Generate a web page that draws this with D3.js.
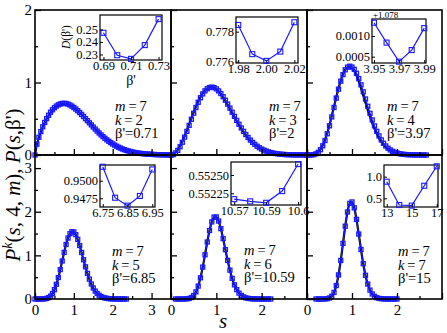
<!DOCTYPE html>
<html><head><meta charset="utf-8">
<script src="https://cdn.jsdelivr.net/npm/d3@7"></script>
<style>
body{margin:0;background:#fff}
svg{display:block}
</style>
</head><body>
<svg id="c" width="447" height="333"></svg>
<script>
// ---------------- DATA ----------------
const sGrid = [0,0.05,0.1,0.15,0.2,0.25,0.3,0.35,0.4,0.45,0.5,0.55,0.6,0.65,0.7,0.75,0.8,0.85,0.9,0.95,1,1.05,1.1,1.15,1.2,1.25,1.3,1.35,1.4,1.45,1.5,1.55,1.6,1.65,1.7,1.75,1.8,1.85,1.9,1.95,2,2.05,2.1,2.15,2.2,2.25,2.3,2.35,2.4,2.45,2.5,2.55,2.6,2.65,2.7,2.75,2.8,2.85,2.9,2.95,3,3.05,3.1,3.15,3.2,3.25,3.3,3.35,3.4,3.45,3.5];

// P(s, beta') black curves
const theoryK2 = [0,.148,.241,.319,.387,.446,.499,.545,.585,.619,.647,.669,.686,.697,.703,.705,.702,.695,.684,.669,.651,.631,.609,.584,.558,.531,.502,.474,.445,.416,.387,.359,.332,.305,.280,.255,.232,.211,.190,.171,.153,.137,.122,.108,.095,.084,.074,.064,.056,.048,.042,.036,.031,.027,.023,.019,.016,.014,.012,.010,.008,.007,.006,.005,.004,.003,.003,.002,.002,.001,.001];
const theoryK3 = [0,.008,.032,.071,.123,.187,.260,.340,.423,.507,.590,.667,.738,.800,.851,.891,.919,.934,.936,.927,.908,.878,.841,.796,.747,.693,.637,.580,.524,.469,.416,.366,.319,.276,.236,.201,.170,.142,.118,.097,.080,.065,.052,.042,.033,.026,.020,.016,.012,.009,.007,.005,.004,.003,.002,.002,.001,.001,.001,0,0];
const theoryK4 = [0,.0001,.0012,.006,.018,.040,.078,.134,.209,.304,.415,.538,.668,.797,.919,1.027,1.114,1.178,1.213,1.222,1.202,1.159,1.095,1.014,.922,.823,.722,.623,.528,.441,.362,.292,.233,.183,.141,.107,.080,.060,.043,.031,.022,.016,.011,.007,.005,.003,.002,.001,.001,.001,0,0,0,0];
const theoryK5 = [0,0,0,0,.001,.004,.012,.029,.064,.122,.211,.334,.490,.673,.872,1.071,1.254,1.401,1.501,1.545,1.534,1.470,1.360,1.219,1.058,.891,.729,.580,.448,.337,.247,.177,.123,.083,.055,.036,.023,.014,.008,.005,.003,.002,.001,.001,0,0,0,0];
const theoryK6 = [0,0,0,0,0,0,.001,.004,.012,.034,.079,.161,.294,.485,.730,1.014,1.307,1.571,1.769,1.878,1.881,1.786,1.610,1.381,1.128,.881,.658,.470,.322,.212,.134,.081,.047,.027,.014,.008,.004,.002,.001,0,0,0,0,0,0];
const theoryK7 = [0,0,0,0,0,0,0,0,.002,.007,.023,.063,.149,.306,.551,.883,1.276,1.670,1.996,2.193,2.224,2.088,1.822,1.485,1.131,.807,.541,.341,.202,.114,.060,.030,.014,.006,.003,.001,0,0,0,0,0];

// P^k(s,4,m) blue markers
const dataK2 = [0,.150,.245,.322,.390,.449,.502,.548,.590,.624,.652,.675,.692,.704,.711,.713,.710,.702,.690,.674,.655,.634,.611,.586,.559,.531,.502,.473,.444,.415,.386,.358,.330,.304,.278,.254,.231,.209,.189,.170,.152,.136,.121,.107,.095,.083,.073,.064,.056,.049,.042,.036,.031,.027,.023,.020,.017,.014,.012,.010,.009,.007,.006,.005,.004,.003,.003,.002,.002,.001,.001];
const dataK3 = [0,.006,.028,.064,.114,.176,.247,.326,.409,.493,.576,.655,.727,.790,.843,.885,.914,.931,.936,.930,.912,.884,.848,.804,.755,.702,.646,.589,.532,.477,.424,.373,.326,.282,.242,.206,.174,.146,.121,.100,.082,.067,.054,.043,.034,.027,.021,.016,.012,.009,.007,.005,.004,.003,.002,.002,.001,.001,.001,0,0];
const dataK4 = [0,0,.001,.005,.016,.037,.073,.127,.200,.293,.403,.525,.655,.785,.908,1.018,1.108,1.175,1.212,1.225,1.212,1.181,1.127,1.054,.968,.872,.772,.672,.575,.484,.401,.327,.263,.208,.162,.124,.094,.070,.051,.037,.027,.019,.013,.009,.006,.004,.003,.002,.001,.001,.001,0,0,0];
const dataK5 = [0,0,0,0,.001,.004,.013,.031,.066,.125,.214,.337,.492,.674,.871,1.068,1.249,1.396,1.497,1.543,1.535,1.474,1.366,1.226,1.066,.899,.737,.587,.455,.343,.252,.181,.127,.086,.057,.037,.024,.015,.009,.005,.003,.002,.001,.001,0,0,0,0];
const dataK6 = [null,null,0,0,0,0,.001,.004,.012,.034,.080,.163,.296,.486,.731,1.014,1.306,1.569,1.767,1.876,1.880,1.787,1.612,1.384,1.131,.884,.661,.473,.324,.214,.135,.082,.048,.027,.015,.008,.004,.002,.001,0,0,0,0,0,0];
const dataK7 = [null,null,null,null,0,0,0,0,.002,.007,.024,.064,.151,.308,.552,.884,1.275,1.668,1.994,2.191,2.224,2.090,1.825,1.488,1.134,.810,.543,.343,.203,.115,.061,.030,.014,.006,.003,.001,0,0,0,0,0];

const panelK = [2,3,4,5,6,7];
const panelBeta = ["0.71","2","3.97","6.85","10.59","15"];
const theorySeries = [theoryK2,theoryK3,theoryK4,theoryK5,theoryK6,theoryK7];
const dataSeries = [dataK2,dataK3,dataK4,dataK5,dataK6,dataK7];

// insets: D(beta') vs beta'
const insetBeta = [[0.69,0.70,0.71,0.72,0.73],[1.98,1.99,2.00,2.01,2.02],[3.95,3.96,3.97,3.98,3.99],[6.75,6.80,6.85,6.90,6.95],[10.57,10.58,10.59,10.60,10.61],[13,14,15,16,17]];
const insetD = [[0.2473,0.2294,0.2265,0.2375,0.2582],[0.77845,0.77650,0.77605,0.77667,0.77863],[0.00132,0.00084,0.00038,0.00066,0.00119],[0.95198,0.94758,0.94645,0.94783,0.95160],[0.55217,0.55214,0.55212,0.55228,0.55265],[0.884,0.345,0.330,0.790,1.240]];
const insetXTicks = [[0.69,0.71,0.73],[1.98,2.00,2.02],[3.95,3.97,3.99],[6.75,6.85,6.95],[10.57,10.59,10.61],[13,15,17]];
const insetXTickLabels = [["0.69","0.71","0.73"],["1.98","2.00","2.02"],["3.95","3.97","3.99"],["6.75","6.85","6.95"],["10.57","10.59","10.6"],["13","15","17"]];
const insetYTicks = [[0.23,0.24,0.25],[0.776,0.778],[0.0005,0.0010],[0.9475,0.9500],[0.55225,0.55250],[0.5,1.0]];
const insetYTickLabels = [["0.23","0.24","0.25"],["0.776","0.778"],["0.0005","0.0010"],["0.9475","0.9500"],["0.55225","0.55250"],["0.5","1.0"]];

// ---------------- LAYOUT ----------------
const FONT = "Liberation Serif";
const colX = [35,171,307,442];
const colXMax = [3.5,3,3];
const rowY = [[10,155],[155,299]];
const rowYMax = [2,3.3];
const xLabelTicks = [[0,1,2,3],[0,1,2],[0,1,2]];
const yLabelTicks = [[0,1,2],[0,1,2,3]];
const insetBox = [[100,15,162,60],[236,17,298,63],[372,19,426,63],[100,165,155,207],[231,162,301,205],[384,165,438,207]];
const insetXDom = [[0.6875,0.7325],[1.9784,2.0226],[3.9484,3.9914],[6.739,6.961],[10.568,10.6118],[12.78,17.1]];
const insetYDom = [[0.2256,0.2615],[0.77591,0.77898],[0.000348,0.00141],[0.94626,0.95223],[0.55209,0.552678],[0.299,1.27]];
const annot = [[115,111],[269,111],[387,111],[112,256],[244,255],[398,256]];

const svg = d3.select("#c");
const blue = "#1a1aff";

function drawMarkers(g, pts, xs, ys, size, sw){
  g.selectAll(null).data(pts).enter().append("rect")
    .attr("x", d => xs(d[0]) - size/2).attr("y", d => ys(d[1]) - size/2)
    .attr("width", size).attr("height", size)
    .attr("fill", "none").attr("stroke", blue).attr("stroke-width", sw);
}

for (let p = 0; p < 6; p++) {
  const row = Math.floor(p/3), col = p % 3;
  const x = d3.scaleLinear().domain([0, colXMax[col]]).range([colX[col], colX[col+1]]);
  const y = d3.scaleLinear().domain([0, rowYMax[row]]).range([rowY[row][1], rowY[row][0]]);
  const g = svg.append("g");

  const th = sGrid.map((s,i) => [s, theorySeries[p][i]]).filter(d => d[1] != null);
  const da = sGrid.map((s,i) => [s, dataSeries[p][i]]).filter(d => d[1] != null);
  const line = d3.line().x(d => x(d[0])).y(d => y(d[1])).curve(d3.curveCatmullRom);
  g.append("path").attr("d", line(th)).attr("fill","none").attr("stroke","#000").attr("stroke-width",2.2);
  g.append("path").attr("d", d3.line().x(d => x(d[0])).y(d => y(d[1]))(da)).attr("fill","none").attr("stroke",blue).attr("stroke-width",1.3);
  drawMarkers(g, da, x, y, 4, 1.3);

  const xMaj = d3.range(0, colXMax[col] + 0.001, 1);
  const xMin = d3.range(0.5, colXMax[col], 1);
  const yMaj = d3.range(0, rowYMax[row] + 0.001, 1);
  const yMin = d3.range(0.5, rowYMax[row], 1);
  const ax = g.append("g").attr("transform", `translate(0,${rowY[row][1]})`)
    .call(d3.axisBottom(x).tickValues(xMaj).tickSize(-6).tickPadding(4)
      .tickFormat(d => (row === 1 && xLabelTicks[col].includes(d)) ? d3.format("d")(d) : ""));
  g.append("g").attr("transform", `translate(0,${rowY[row][1]})`)
    .call(d3.axisBottom(x).tickValues(xMin).tickSize(-3).tickFormat(""));
  g.append("g").attr("transform", `translate(${colX[col]},0)`)
    .call(d3.axisLeft(y).tickValues(yMaj).tickSize(-6).tickPadding(3)
      .tickFormat(d => (col === 0 && yLabelTicks[row].includes(d)) ? d3.format("d")(d) : ""));
  g.append("g").attr("transform", `translate(${colX[col]},0)`)
    .call(d3.axisLeft(y).tickValues(yMin).tickSize(-3).tickFormat(""));
  g.selectAll(".domain").remove();
  g.selectAll(".tick line").attr("stroke","#000").attr("stroke-width",1.3);
  g.selectAll(".tick text").attr("font-size",15).attr("fill","#000");
  ax.selectAll(".tick text").attr("dy","0.8em");

  g.append("rect").attr("x", colX[col]).attr("y", rowY[row][0])
    .attr("width", colX[col+1]-colX[col]).attr("height", rowY[row][1]-rowY[row][0])
    .attr("fill","none").attr("stroke","#000").attr("stroke-width",1.6);

  const [ax0, ay0] = annot[p];
  const t1 = g.append("text").attr("x", ax0).attr("y", ay0).attr("font-size", 14.5);
  t1.append("tspan").attr("font-style","italic").text("m");
  t1.append("tspan").text("\u2009=\u20097");
  const t2 = g.append("text").attr("x", ax0).attr("y", ay0+13.5).attr("font-size", 14.5);
  t2.append("tspan").attr("font-style","italic").text("k");
  t2.append("tspan").text("\u2009=\u2009" + panelK[p]);
  g.append("text").attr("x", ax0).attr("y", ay0+27).attr("font-size", 14.5).text("\u03b2'=" + panelBeta[p]);

  const b = insetBox[p];
  const ix = d3.scaleLinear().domain(insetXDom[p]).range([b[0], b[2]]);
  const iy = d3.scaleLinear().domain(insetYDom[p]).range([b[3], b[1]]);
  const ig = svg.append("g");
  ig.append("rect").attr("x", b[0]).attr("y", b[1]).attr("width", b[2]-b[0]).attr("height", b[3]-b[1])
    .attr("fill","#fff").attr("stroke","#000").attr("stroke-width",1.2);
  const ipts = insetBeta[p].map((v,i) => [v, insetD[p][i]]);
  ig.append("path").attr("d", d3.line().x(d => ix(d[0])).y(d => iy(d[1]))(ipts))
    .attr("fill","none").attr("stroke",blue).attr("stroke-width",1.2);
  drawMarkers(ig, ipts, ix, iy, 5, 1.1);
  ig.append("g").attr("transform", `translate(0,${b[3]})`)
    .call(d3.axisBottom(ix).tickValues(insetXTicks[p]).tickSize(-3).tickPadding(1)
      .tickFormat((d,i) => insetXTickLabels[p][i]));
  ig.append("g").attr("transform", `translate(${b[0]},0)`)
    .call(d3.axisLeft(iy).tickValues(insetYTicks[p]).tickSize(-3).tickPadding(2)
      .tickFormat((d,i) => insetYTickLabels[p][i]));
  ig.selectAll(".domain").remove();
  ig.selectAll(".tick line").attr("stroke","#000");
  ig.selectAll(".tick text").attr("font-size",12.5).attr("fill","#000");
}

const dl = svg.append("text").attr("transform","translate(70,37) rotate(-90)").attr("text-anchor","middle").attr("font-size",11.5);
dl.append("tspan").attr("font-style","italic").text("D");
dl.append("tspan").text("(\u03b2')");
svg.append("text").attr("x",131).attr("y",85).attr("text-anchor","middle").attr("font-size",14).text("\u03b2'");
svg.append("text").attr("x",373).attr("y",18).attr("font-size",9).text("+1.078");

const yl = svg.append("text").attr("transform","translate(20,185) rotate(-90)").attr("text-anchor","middle").attr("font-size",21);
yl.append("tspan").attr("font-style","italic").text("P");
yl.append("tspan").attr("font-style","italic").attr("font-size",14).attr("dy",-8).text("k");
yl.append("tspan").attr("dy",8).text("(");
yl.append("tspan").attr("font-style","italic").text("s");
yl.append("tspan").text(", 4, ");
yl.append("tspan").attr("font-style","italic").text("m");
yl.append("tspan").text("), ");
yl.append("tspan").attr("font-style","italic").text("P");
yl.append("tspan").text("(");
yl.append("tspan").attr("font-style","italic").text("s");
yl.append("tspan").text(",\u03b2')");

svg.append("text").attr("x",223).attr("y",328).attr("text-anchor","middle").attr("font-size",21).attr("font-style","italic").text("s");

svg.selectAll("g").attr("font-family", null);
svg.attr("font-family", FONT);
svg.selectAll("text").attr("font-family", FONT);
</script>
</body></html>
